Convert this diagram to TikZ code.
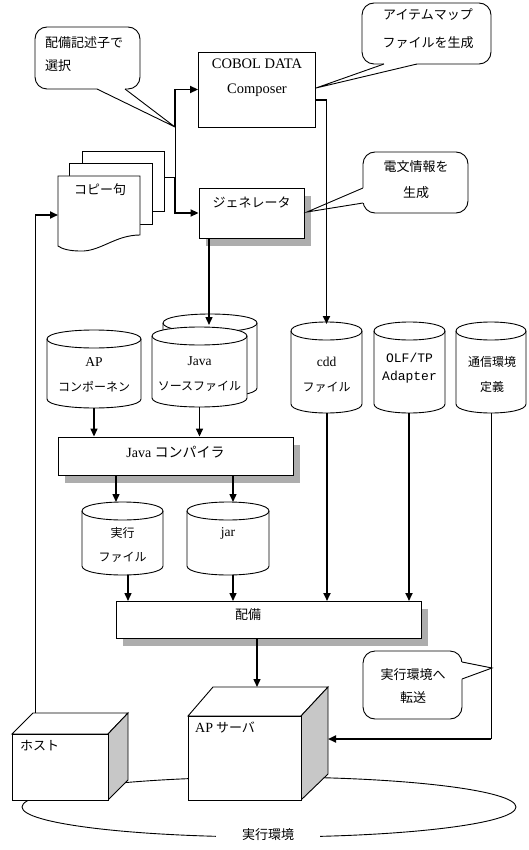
\documentclass[tikz,border=0pt]{standalone}
\usepackage{fontspec}
\setmainfont{Liberation Serif}
\newfontfamily\jp{Noto Sans CJK JP}
\newfontfamily\mono{Liberation Mono}
\usetikzlibrary{arrows.meta,shadows}
\newcommand\mycyl[4]{%
  \draw[ln, fill=white] (#1,#3+9) -- (#1,#4-9) .. controls (#1,#4+3) and (#2,#4+3) .. (#2,#4-9) -- (#2,#3+9) .. controls (#2,#3-3) and (#1,#3-3) .. cycle;
  \draw[ln] (#1,#3+9) .. controls (#1,#3+21) and (#2,#3+21) .. (#2,#3+9);
}
% callout tail: base point 1, tip, base point 2, inward shift x, inward shift y
\newcommand\mytail[5]{%
  \fill[white] (#1) -- (#2) -- (#3) -- ([shift={(#4,#5)}]#3) -- ([shift={(#4,#5)}]#1) -- cycle;
  \draw[ln] (#1) -- (#2) -- (#3);
}
\begin{document}
\begin{tikzpicture}[x=1pt,y=-1pt,
  ln/.style={line width=0.9pt},
  med/.style={line width=1.4pt},
  thk/.style={line width=1.8pt},
  arr/.style={-{Triangle[length=8pt,width=7pt]}},
  box/.style={draw, line width=0.9pt, fill=white, inner sep=0pt},
  callout/.style={draw, line width=0.9pt, fill=white, rounded corners=12pt},
  shad/.style={drop shadow={shadow xshift=7pt, shadow yshift=-8pt, fill=black!32, opacity=1}},
  txt/.style={inner sep=0pt, font=\jp\fontsize{13}{25}\selectfont, align=center},
  ctxt/.style={inner sep=0pt, font=\jp\fontsize{12}{25}\selectfont, align=center},
  bb/.style={inner sep=0pt}
]
\useasboundingbox (0,0) rectangle (528,850);

% environment ellipse
\draw[ln] (269,807) ellipse [x radius=247, y radius=30];
\node[txt, fill=white, inner xsep=26pt, inner ysep=3pt] (env) at (268,835) {実行環境};

% callout 1
\draw[callout] (35,27) rectangle (140,89);
\mytail{97,89}{175,127}{125,89}{0}{-1.5}
\node[txt, align=left, anchor=west, font=\jp\fontsize{13}{23}\selectfont] (c1) at (45,54.5) {配備記述子で\\選択};

% COBOL DATA Composer
\node[box, minimum width=117, minimum height=75] (cobol) at (257,89.5) {};
\node[txt, font=\rmfamily\fontsize{14.5}{25}\selectfont] (cobolt) at (257,77.5) {COBOL DATA\\Composer};

% callout 2
\draw[callout] (362,3) rectangle (491,64);
\mytail{384,64}{316,88}{417,64}{0}{-1.5}
\node[txt, font=\jp\fontsize{13}{28}\selectfont] (c2) at (428,29) {アイテムマップ\\ファイルを生成};

% copy pages
\node[box, minimum width=82, minimum height=60, anchor=north west] (page3) at (82,151) {};
\node[box, minimum width=83, minimum height=61, anchor=north west] (page2) at (69,163) {};
\draw[ln, fill=white] (58,176) -- (140,176) -- (140,235) .. controls (115,235) and (100,252) .. (80,251) .. controls (70,251) and (62,249) .. (58,246) -- cycle;
\node[txt] (copyku) at (100,190) {コピー句};

% generator
\node[box, shad, minimum width=105, minimum height=50] (gen) at (251.5,213) {};
\node[txt] (gent) at (251.5,202) {ジェネレータ};

% callout 3
\draw[callout] (363,152) rectangle (468,213);
\mytail{363,188}{307,212}{363,203}{1.5}{0}
\node[txt, font=\jp\fontsize{13}{26}\selectfont] (c3) at (416,180) {電文情報を\\生成};

% cylinders row 1
\mycyl{47}{141}{330}{408}
\node[bb, minimum width=94, minimum height=78] (apcomp) at (94,369) {};
\node[ctxt] (apcompt) at (94,374.5) {{\rmfamily\fontsize{13.5}{25}\selectfont AP}\\コンポーネン};

\mycyl{163}{257}{314}{397}
\node[bb, minimum width=94, minimum height=83] (jsback) at (210,355.5) {};
\mycyl{152}{247}{327}{407}
\node[bb, minimum width=95, minimum height=80] (javasrc) at (199.5,367) {};
\node[ctxt] (javasrct) at (199.5,374.5) {{\rmfamily\fontsize{13.5}{25}\selectfont Java}\\ソースファイル};

\mycyl{291}{362}{322}{413}
\node[bb, minimum width=71, minimum height=91] (cdd) at (326.5,367.5) {};
\node[ctxt] (cddt) at (326.5,374.5) {{\rmfamily\fontsize{13.5}{25}\selectfont cdd}\\ファイル};

\mycyl{374}{445}{322}{413}
\node[bb, minimum width=71, minimum height=91] (olf) at (409.5,367.5) {};
\node[inner sep=0pt, font=\mono\fontsize{13}{18}\selectfont, align=center] (olft) at (409.5,368) {OLF/TP\\Adapter};

\mycyl{456}{526}{322}{413}
\node[bb, minimum width=70, minimum height=91] (tsushin) at (491,367.5) {};
\node[ctxt] (tsushint) at (492,374.5) {通信環境\\定義};

% compiler
\node[box, shad, minimum width=235, minimum height=38] (compiler) at (175.5,456) {};
\node[txt, font=\jp\fontsize{14}{25}\selectfont] (compilert) at (175.5,452) {{\rmfamily Java} コンパイラ};

% cylinders row 2
\mycyl{82}{163}{502}{575}
\node[bb, minimum width=81, minimum height=73] (exe) at (122.5,538.5) {};
\node[ctxt, font=\jp\fontsize{12}{24}\selectfont] (exet) at (122.5,545) {実行\\ファイル};

\mycyl{187}{269}{502}{575}
\node[bb, minimum width=82, minimum height=73] (jar) at (228,538.5) {};
\node[ctxt, font=\rmfamily\fontsize{13.5}{15}\selectfont] (jart) at (228,533) {jar};

% deploy
\node[box, shad, minimum width=305, minimum height=37] (deploy) at (268.5,619.5) {};
\node[txt] (deployt) at (248,615) {配備};

% callout 4
\draw[callout] (363,651) rectangle (462,719);
\mytail{462,662}{492,668}{462,679}{-1.5}{0}
\node[txt, font=\jp\fontsize{13}{23}\selectfont] (c4) at (413,686.5) {実行環境へ\\転送};

% AP server
\draw[ln, fill=white] (188,716) -- (213,687) -- (328,687) -- (301,716) -- cycle;
\draw[ln, fill=black!22] (301,716) -- (328,687) -- (328,774) -- (301,800) -- cycle;
\node[box, minimum width=113, minimum height=84, anchor=north west] (apserver) at (188,716) {};
\node[txt, anchor=west] (apservert) at (195,727) {{\rmfamily\fontsize{14}{25}\selectfont AP} サーバ};

% host
\draw[ln, fill=white] (12,734) -- (33,713) -- (128,713) -- (108,734) -- cycle;
\draw[ln, fill=black!22] (108,734) -- (128,713) -- (128,780) -- (108,800) -- cycle;
\node[box, minimum width=96, minimum height=66, anchor=north west] (host) at (12,734) {};
\node[txt, anchor=west] (hostt) at (20,746) {ホスト};

% coordinates
\coordinate (j1) at (175,127);
\coordinate (j2) at (175,177);
\coordinate (cobolout) at (316,100);
\coordinate (cddin) at (326.5,324);
\coordinate (genout) at (209,238);
\coordinate (jsin) at (209,325);
\coordinate (exein) at (116,502);
\coordinate (jarin) at (233,502);
\coordinate (d1) at (128,601);
\coordinate (d2) at (233,601);
\coordinate (d3) at (327,601);
\coordinate (d4) at (409,601);
\coordinate (aptop) at (257,687);
\coordinate (apin) at (328,739);
\coordinate (hosttop) at (35,713);
\coordinate (pagein) at (58,215);

% connectors
\draw[ln] (page3.east |- j2) -- (j2) -- (j1);
\draw[thk, arr] (j1) |- (cobol.west);
\draw[thk, arr] (j2) |- (gen.west);
\draw[thk, arr] (cobolout) -| (cddin);
\draw[med, arr] (genout) -- (jsin);
\draw[med, arr] (apcomp.south) -- (apcomp.south |- compiler.north);
\draw[med, arr] (javasrc.south) -- (javasrc.south |- compiler.north);
\draw[med, arr] (exein |- compiler.south) -- (exein);
\draw[med, arr] (jarin |- compiler.south) -- (jarin);
\draw[med, arr] (d1 |- exe.south) -- (d1);
\draw[med, arr] (d2 |- jar.south) -- (d2);
\draw[thk, arr] (d3 |- cdd.south) -- (d3);
\draw[thk, arr] (d4 |- olf.south) -- (d4);
\draw[med, arr] (aptop |- deploy.south) -- (aptop);
\draw[ln] (tsushin.south) -- (tsushin.south |- apin);
\draw[thk, arr] (tsushin.south |- apin) -- (apin);
\draw[ln] (hosttop) -- (hosttop |- pagein);
\draw[thk, arr] (hosttop |- pagein) -- (pagein);
\end{tikzpicture}
\end{document}
